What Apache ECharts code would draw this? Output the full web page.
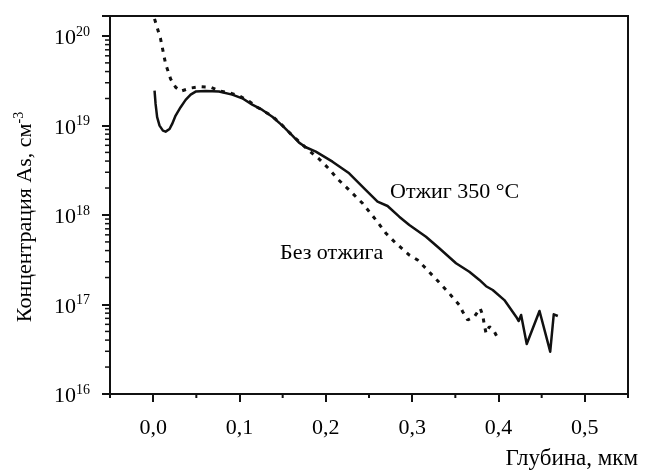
<!DOCTYPE html>
<html>
<head>
<meta charset="utf-8" />
<title></title>
<style>html,body{margin:0;padding:0;background:#fff;}</style>
</head>
<body>
<div id="main" style="width:651px;height:471px"></div>
<script src="https://cdn.jsdelivr.net/npm/echarts@6/dist/echarts.min.js"></script>
<script type="text/javascript">
    // Отжиг 350 °C (solid)
    var depthAnneal = [0.0016, 0.0028, 0.0046, 0.0074, 0.0113, 0.0144, 0.019, 0.022, 0.026, 0.0318, 0.0376, 0.0434, 0.0492,
        0.0608, 0.0762, 0.0916, 0.1032, 0.1148, 0.1265, 0.138, 0.1497, 0.1613, 0.169, 0.1768, 0.1884, 0.2077, 0.227,
        0.2464, 0.2599, 0.2715, 0.285, 0.2967, 0.316, 0.3314, 0.3508, 0.3662, 0.3779, 0.3856, 0.3933, 0.4068, 0.4204,
        0.4234, 0.4262, 0.4327, 0.4475, 0.4599, 0.464, 0.4687];
    var concAnneal = [2.45e19, 1.74e19, 1.24e19, 9.95e18, 8.75e18, 8.53e18, 9.14e18, 1.04e19, 1.29e19, 1.6e19, 1.93e19, 2.21e19, 2.39e19,
        2.43e19, 2.39e19, 2.21e19, 2.01e19, 1.71e19, 1.49e19, 1.25e19, 9.95e18, 7.69e18, 6.43e18, 5.71e18, 5.1e18, 3.94e18, 2.92e18,
        1.9e18, 1.41e18, 1.26e18, 9.57e17, 7.73e17, 5.72e17, 4.25e17, 2.89e17, 2.32e17, 1.88e17, 1.6e17, 1.45e17, 1.12e17, 7.31e16,
        6.54e16, 7.63e16, 3.62e16, 8.46e16, 2.97e16, 7.77e16, 7.44e16];

    // Без отжига (dotted)
    var depthRaw = [0.0016, 0.0086, 0.0144, 0.0202, 0.026, 0.0318, 0.0434, 0.055, 0.0666, 0.0782, 0.0898, 0.0994, 0.111,
        0.1206, 0.138, 0.1497, 0.1613, 0.1806, 0.1922, 0.2038, 0.2135, 0.227, 0.2425, 0.258, 0.2696, 0.2812, 0.2967,
        0.3063, 0.314, 0.3295, 0.343, 0.3546, 0.3585, 0.3643, 0.372, 0.3787, 0.3817, 0.3836, 0.3856, 0.3894, 0.3952, 0.4002];
    var concRaw = [1.55e20, 9.26e19, 4.87e19, 3.31e19, 2.67e19, 2.41e19, 2.62e19, 2.71e19, 2.67e19, 2.41e19, 2.29e19, 2.15e19, 1.86e19,
        1.6e19, 1.27e19, 1.0e19, 7.7e18, 5.23e18, 4.22e18, 3.26e18, 2.53e18, 1.9e18, 1.35e18, 8.79e17, 6.25e17, 4.83e17, 3.57e17,
        3.14e17, 2.64e17, 1.84e17, 1.33e17, 9.87e16, 8.31e16, 6.71e16, 7.31e16, 9.07e16, 7.63e16, 5.9e16, 4.77e16, 5.65e16, 4.97e16, 4.01e16];

    var xMin = -0.05, xMax = 0.55;
    var xMajor = [0, 0.1, 0.2, 0.3, 0.4, 0.5];
    var xLabels = ['0,0', '0,1', '0,2', '0,3', '0,4', '0,5'];
    var xMinor = [-0.05, 0.05, 0.15, 0.25, 0.35, 0.45, 0.55];
    var yMin = 1e16, yMax = 1.67e20;
    var yMajor = [1e16, 1e17, 1e18, 1e19, 1e20];
    var yExp = ['16', '17', '18', '19', '20'];

    var yMinor = [];
    for (var d = 16; d < 20; d++) {
        for (var k = 2; k <= 9; k++) yMinor.push(k * Math.pow(10, d));
    }

    function pairs(xs, ys) {
        return xs.map(function (x, i) { return [x, ys[i]]; });
    }

    var font = "'Liberation Serif', 'Times New Roman', serif";
    var ink = '#111';

    var myChart = echarts.init(document.getElementById('main'));
    var option = {
        backgroundColor: '#fff',
        animation: false,
        grid: {
            left: 110, right: 23, top: 16, bottom: 77,
            show: true, borderColor: ink, borderWidth: 2,
            containLabel: false, outerBoundsMode: 'none'
        },
        xAxis: {
            type: 'value', min: xMin, max: xMax, position: 'bottom',
            axisLine: { show: true, onZero: false, lineStyle: { color: ink, width: 2 } },
            axisTick: { show: true, customValues: xMajor, length: 8, lineStyle: { color: ink, width: 2 } },
            axisLabel: {
                customValues: xMajor, margin: 23, color: '#000', fontSize: 22, fontFamily: font,
                formatter: function (v) {
                    for (var i = 0; i < xMajor.length; i++) if (Math.abs(v - xMajor[i]) < 1e-9) return xLabels[i];
                    return '';
                }
            },
            splitLine: { show: false },
            name: 'Глубина, мкм', nameLocation: 'end', nameGap: 10, nameMoveOverlap: false,
            nameTextStyle: { align: 'right', verticalAlign: 'top', padding: [53, 0, 0, 0], color: '#000', fontSize: 23, fontFamily: font }
        },
        yAxis: {
            type: 'log', logBase: 10, min: yMin, max: yMax, position: 'left',
            axisLine: { show: true, onZero: false, lineStyle: { color: ink, width: 2 } },
            axisTick: { show: true, length: 8, lineStyle: { color: ink, width: 2 } },
            axisLabel: {
                margin: 20,
                formatter: function (v) {
                    for (var i = 0; i < yMajor.length; i++) {
                        if (Math.abs(v / yMajor[i] - 1) < 1e-6) return '{b|10}{s|' + yExp[i] + '}';
                    }
                    return '';
                },
                rich: {
                    b: { fontSize: 22, lineHeight: 22, padding: [5, 0, 0, 0], color: '#000', fontFamily: font },
                    s: { fontSize: 14, lineHeight: 14, verticalAlign: 'top', color: '#000', fontFamily: font }
                }
            },
            splitLine: { show: false },
            name: '{t|Концентрация As, см}{s|-3}', nameLocation: 'middle', nameRotate: 90, nameGap: 76, nameMoveOverlap: false,
            nameTextStyle: {
                padding: [0, 24, 0, 0],
                rich: {
                    t: { fontSize: 22, lineHeight: 22, padding: [5, 0, 0, 0], color: '#000', fontFamily: font },
                    s: { fontSize: 14, lineHeight: 14, verticalAlign: 'top', color: '#000', fontFamily: font }
                }
            }
        },
        series: [{
            name: 'Отжиг 350 °C', type: 'line',
            data: pairs(depthAnneal, concAnneal),
            showSymbol: false, symbol: 'none', silent: true,
            lineStyle: { color: ink, width: 2.5, join: 'round' }
        }, {
            name: 'Без отжига', type: 'line',
            data: pairs(depthRaw, concRaw),
            showSymbol: false, symbol: 'none', silent: true,
            lineStyle: { color: ink, width: 3, type: [4, 6] }
        }]
    };
    myChart.setOption(option);

    // data -> pixel through the grid; log axis may want its value already in log space
    function toPx(x, y) {
        var p = myChart.convertToPixel({ gridIndex: 0 }, [x, y]);
        if (p && isFinite(p[0]) && isFinite(p[1]) && p[1] >= 0 && p[1] <= 471) return p;
        return myChart.convertToPixel({ gridIndex: 0 }, [x, Math.log10(y)]);
    }

    // minor tick marks placed through the chart's own axes
    var marks = [];
    function yTick(v, len, w) {
        var p = toPx(xMin, v);
        if (!p || !isFinite(p[1])) return;
        marks.push({ type: 'line', silent: true, z: 10, shape: { x1: p[0] - len, y1: p[1], x2: p[0], y2: p[1] }, style: { stroke: ink, lineWidth: w } });
    }
    function xTick(v, len, w) {
        var p = toPx(v, yMin);
        if (!p || !isFinite(p[0])) return;
        marks.push({ type: 'line', silent: true, z: 10, shape: { x1: p[0], y1: p[1], x2: p[0], y2: p[1] + len }, style: { stroke: ink, lineWidth: w } });
    }
    yMinor.forEach(function (v) { yTick(v, 5, 1.5); });
    xMinor.forEach(function (v) { xTick(v, 4, 2); });

    marks.push({
        type: 'text', x: 390, y: 192,
        style: { text: 'Отжиг 350 °C', fill: '#000', font: '22px ' + font, verticalAlign: 'middle' }
    }, {
        type: 'text', x: 280, y: 253,
        style: { text: 'Без отжига', fill: '#000', font: '22px ' + font, verticalAlign: 'middle' }
    });
    myChart.setOption({ graphic: marks });
</script>
</body>
</html>
